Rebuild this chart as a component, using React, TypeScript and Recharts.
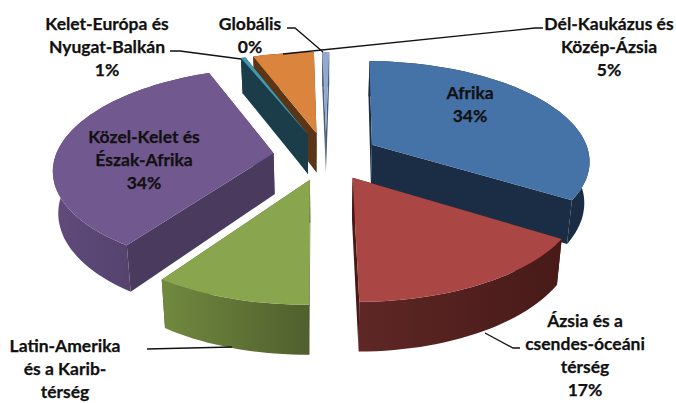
import { PieChart, Pie } from "recharts";

const regions = [
  "Afrika",
  "Ázsia és a csendes-óceáni térség",
  "Latin-Amerika és a Karib-térség",
  "Közel-Kelet és Észak-Afrika",
  "Kelet-Európa és Nyugat-Balkán",
  "Dél-Kaukázus és Közép-Ázsia",
  "Globális",
];
const shares = [33.7, 15.9, 9.7, 34.4, 0.4, 5.3, 0.6];
const labelLines = [
  ["Afrika", "34%"],
  ["Ázsia és a", "csendes-óceáni", "térség", "17%"],
  ["Latin-Amerika", "és a Karib-", "térség"],
  ["Közel-Kelet és", "Észak-Afrika", "34%"],
  ["Kelet-Európa és", "Nyugat-Balkán", "1%"],
  ["Dél-Kaukázus és", "Közép-Ázsia", "5%"],
  ["Globális", "0%"],
];

const topColors = ["#4572A7", "#AA4643", "#89A54E", "#71588F", "#4198AF", "#DB843D", "#93A9CF"];
const wallLeft = ["#1A2D45", "#5E2725", "#71893F", "#604B7C", "#1B3D4A", "#5A3516", "#4A5A78"];
const wallRight = ["#1A2D45", "#471A18", "#505F2D", "#4A3A5E", "#1B3D4A", "#5A3516", "#4A5A78"];

// where each label block sits (centre x, first line y), and its leader line
const labelAnchors = [
  [470, 92], [585, 320], [65, 345], [144, 136], [107, 23], [609, 23], [250, 23],
];
const leaders = [
  null,
  "485,333 513,348 520,348",
  "147,349 232,347",
  null,
  "170,51 180,51 241,59",
  "283,54 535,28 543,28",
  "287,28 295,28 323,52",
];

const CX = 326;
const CY = 156;
const RADIUS = 218;
const EXPLODE = 0.243;
const TILT = 0.454;
const PERSPECTIVE = 0.146;
const DEPTH = 41;

const chartData = regions.map((name, idx) => ({ name, value: shares[idx], idx }));

// disc coordinates (radius = 1) to the screen, with optional drop to the bottom face
function project(u: number, v: number, bottom: boolean) {
  const w = 1 - PERSPECTIVE * v;
  let x = CX + (RADIUS * u) / w;
  let y = CY + (RADIUS * TILT * v) / w;
  if (bottom) {
    x = CX + (x - CX) * 0.98;
    y += DEPTH / w;
  }
  return `${x.toFixed(1)},${y.toFixed(1)}`;
}

function Slice3D(props: any) {
  const { startAngle, endAngle, midAngle, idx } = props;
  const rad = Math.PI / 180;
  const eu = EXPLODE * Math.cos(midAngle * rad);
  const ev = -EXPLODE * Math.sin(midAngle * rad);

  const rim: [number, number][] = [];
  const steps = Math.max(2, Math.ceil(Math.abs(endAngle - startAngle) / 2));
  for (let i = 0; i <= steps; i++) {
    const a = (startAngle + ((endAngle - startAngle) * i) / steps) * rad;
    rim.push([eu + Math.cos(a), ev - Math.sin(a)]);
  }
  const first = rim[0];
  const last = rim[rim.length - 1];
  const gradId = `wall-${idx}`;

  const wall = (a: [number, number], b: [number, number]) =>
    [project(a[0], a[1], false), project(b[0], b[1], false), project(b[0], b[1], true), project(a[0], a[1], true)].join(" ");
  const apex: [number, number] = [eu, ev];

  const outer = [
    ...rim.map((p) => project(p[0], p[1], false)),
    ...[...rim].reverse().map((p) => project(p[0], p[1], true)),
  ].join(" ");
  const top = [project(eu, ev, false), ...rim.map((p) => project(p[0], p[1], false))].join(" ");

  return (
    <g>
      <defs>
        <linearGradient id={gradId} x1="0" y1="0" x2="1" y2="0">
          <stop offset="0%" stopColor={wallLeft[idx]} />
          <stop offset="100%" stopColor={wallRight[idx]} />
        </linearGradient>
      </defs>
      <polygon points={wall(apex, first)} fill={wallRight[idx]} />
      <polygon points={wall(apex, last)} fill={wallRight[idx]} />
      <polygon points={outer} fill={`url(#${gradId})`} />
      <polygon points={top} fill={topColors[idx]} />
    </g>
  );
}

const backShape = (props: any) => (props.idx >= 5 ? <Slice3D {...props} /> : <g />);
const frontShape = (props: any) => (props.idx < 5 ? <Slice3D {...props} /> : <g />);

function renderLabel(props: any) {
  const idx = props.idx ?? props.index;
  const [x, y] = labelAnchors[idx];
  const leader = leaders[idx];
  return (
    <g key={idx}>
      {leader && <polyline points={leader} fill="none" stroke="#111" strokeWidth={1.3} />}
      {labelLines[idx].map((line, i) => (
        <text
          key={i}
          x={x}
          y={y + i * 23.2}
          textAnchor="middle"
          dominantBaseline="central"
          fontFamily="Lato"
          fontWeight={700}
          fontSize={17.5}
          stroke="#111"
          strokeWidth={0.25}
          fill="#111"
        >
          {line}
        </text>
      ))}
    </g>
  );
}

export default function App() {
  return (
    <div style={{ position: "absolute", left: 0, top: 0, width: 676, height: 403, background: "#fff" }}>
      <PieChart width={676} height={403} margin={{ top: 0, right: 0, bottom: 0, left: 0 }}>
        <Pie
          data={chartData}
          dataKey="value"
          cx={CX}
          cy={CY}
          outerRadius={RADIUS}
          startAngle={89}
          endAngle={-271}
          stroke="none"
          shape={backShape}
          isAnimationActive={false}
        />
        <Pie
          data={chartData}
          dataKey="value"
          cx={CX}
          cy={CY}
          outerRadius={RADIUS}
          startAngle={89}
          endAngle={-271}
          stroke="none"
          shape={frontShape}
          label={renderLabel}
          labelLine={false}
          isAnimationActive={false}
        />
      </PieChart>
    </div>
  );
}
